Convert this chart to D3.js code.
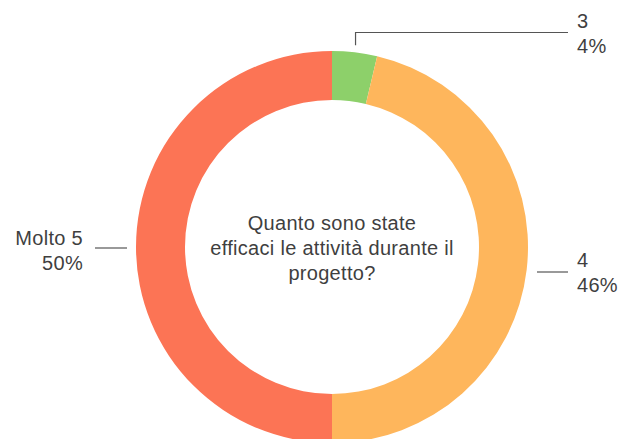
<!DOCTYPE html>
<html>
<head>
<meta charset="utf-8">
<script src="https://cdn.jsdelivr.net/npm/d3@7"></script>
<style>
  body { margin: 0; background: #fff; }
  svg text { font-family: "Liberation Sans", Arial, sans-serif; fill: #3f3f3f; letter-spacing: 0.3px; }
</style>
</head>
<body>
<svg class="donut"></svg>
<script>
// data
const categories = ["3", "4", "Molto 5"];
const values = [3.7, 46.3, 50];
const percentLabels = ["4%", "46%", "50%"];
const colors = ["#8dd06a", "#feb65c", "#fc7455"];
const titleLines = ["Quanto sono state", "efficaci le attività durante il", "progetto?"];

const width = 624, height = 439;
const cx = 332, cy = 247;
const outerR = 196, innerR = 147;

const svg = d3.select(".donut")
    .attr("width", width)
    .attr("height", height);

const g = svg.append("g")
    .attr("transform", `translate(${cx},${cy})`);

const pie = d3.pie().sort(null).value(d => d);
const arcs = pie(values);

const arc = d3.arc().innerRadius(innerR).outerRadius(outerR);

g.selectAll("path.slice")
    .data(arcs)
    .enter()
    .append("path")
    .attr("class", "slice")
    .attr("d", arc)
    .attr("fill", (d, i) => colors[i]);

// leader lines + labels
const fontSize = 20, lineH = 25;

// label positions relative to center (layout only)
const labelPos = [
    {lx: 245, ly: -219, anchor: "start", path: d => {
        const a = (d.startAngle + d.endAngle) / 2;
        const x0 = Math.sin(a) * (outerR + 7);
        const y0 = -Math.cos(a) * (outerR + 7);
        return [[x0, y0], [x0, -214.5], [236, -214.5]];
    }},
    {lx: 245, ly: 20, anchor: "start", path: d => [[205, 25], [236, 25]]},
    {lx: -249, ly: -2, anchor: "end", path: d => [[-205, 1], [-237, 1]]}
];

arcs.forEach((d, i) => {
    const p = labelPos[i];
    g.append("path")
        .attr("d", d3.line()(p.path(d)))
        .attr("fill", "none")
        .attr("stroke", "#555")
        .attr("stroke-width", 1.2);

    const t = g.append("text")
        .attr("text-anchor", p.anchor)
        .style("font-size", fontSize + "px");
    t.append("tspan").attr("x", p.lx).attr("y", p.ly).text(categories[i]);
    t.append("tspan").attr("x", p.lx).attr("y", p.ly + lineH).text(percentLabels[i]);
});

// center title
const title = g.append("text")
    .attr("text-anchor", "middle")
    .style("font-size", fontSize + "px");
titleLines.forEach((line, i) => {
    title.append("tspan")
        .attr("x", 0)
        .attr("y", -17 + i * lineH)
        .text(line);
});
</script>
</body>
</html>
